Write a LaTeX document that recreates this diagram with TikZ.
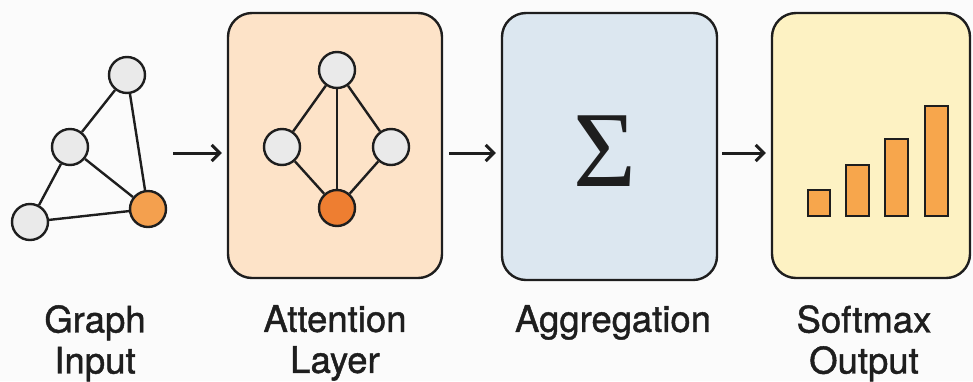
\documentclass[tikz,border=0pt]{standalone}
\usepackage{fontspec}
\setmainfont{TeX Gyre Heros}
\newfontfamily\lblfont{TeX Gyre Heros}[BoldFont={TeX Gyre Heros}, BoldFeatures={FakeBold=1.2}]
\newfontfamily\sigfont{Liberation Serif}
\usetikzlibrary{arrows.meta}
\definecolor{ink}{HTML}{1E1E1E}
\definecolor{peach}{HTML}{FDE3C8}
\definecolor{paleblue}{HTML}{DCE7F0}
\definecolor{paleyellow}{HTML}{FDF2C3}
\definecolor{nodegray}{HTML}{EAEAEA}
\definecolor{lightorange}{HTML}{F4A04E}
\definecolor{deeporange}{HTML}{EE7E31}
\definecolor{barorange}{HTML}{F7A64C}
\definecolor{bgcol}{HTML}{FBFBFB}
\tikzset{
  gnode/.style={circle, draw=ink, line width=2.4pt, fill=nodegray, minimum size=36pt, inner sep=0pt},
  onode/.style={gnode, fill=lightorange},
  dnode/.style={gnode, fill=deeporange},
  edge/.style={draw=ink, line width=2.4pt},
  stagebox/.style={draw=ink, line width=2.4pt, rounded corners=24pt, minimum width=214pt, minimum height=265pt, inner sep=0pt},
  arr/.style={draw=ink, line width=3pt, -{Straight Barb[length=8pt,width=16pt,line width=3pt]}},
  bar/.style={draw=ink, line width=2.4pt, fill=barorange},
  lbl/.style={font=\lblfont\bfseries\fontsize{36.5}{41}\selectfont, align=center, text=ink, inner sep=0pt, anchor=north}
}
\begin{document}
\begin{tikzpicture}[x=1pt, y=-1pt]
\useasboundingbox (0,0) rectangle (973,381);
\fill[bgcol] (0,0) rectangle (973,381);

% Graph input
\node[gnode] (g1) at (127,75) {};
\node[gnode] (g2) at (70,147) {};
\node[gnode] (g3) at (30,222) {};
\node[onode] (g4) at (148,209) {};
\draw[edge] (g1) -- (g2);
\draw[edge] (g1) -- (g4);
\draw[edge] (g2) -- (g3);
\draw[edge] (g2) -- (g4);
\draw[edge] (g3) -- (g4);

% Boxes
\node[stagebox, fill=peach] (att) at (335,145.5) {};
\node[stagebox, fill=paleblue, minimum width=215pt, minimum height=267pt] (agg) at (609.5,146.5) {};
\node[stagebox, fill=paleyellow, minimum width=198pt, minimum height=265pt] (soft) at (871,145.5) {};

% Attention graph
\node[gnode] (a1) at (337,70) {};
\node[gnode] (a2) at (282,147) {};
\node[gnode] (a3) at (391,147) {};
\node[dnode] (a4) at (337,208) {};
\draw[edge] (a1) -- (a2);
\draw[edge] (a1) -- (a3);
\draw[edge] (a1) -- (a4);
\draw[edge] (a2) -- (a4);
\draw[edge] (a3) -- (a4);

% Sigma
\node[text=ink, inner sep=0pt] (sig) at (605,151) {\sigfont\fontsize{108}{108}\selectfont Σ};

% Bars
\draw[bar] (808,216) rectangle (830,190);
\draw[bar] (846,216) rectangle (869,165);
\draw[bar] (885,216) rectangle (908,139);
\draw[bar] (925,216) rectangle (948,106);

% Arrows
\coordinate (s1) at (173,153);
\draw[arr] (s1) -- ([xshift=-5pt]att.west |- s1);
\draw[arr] ([xshift=6pt]att.east |- s1) -- ([xshift=-5pt]agg.west |- s1);
\draw[arr] ([xshift=4pt]agg.east |- s1) -- ([xshift=-5pt]soft.west |- s1);

% Labels
\node[lbl] (l1) at (95,305) {Graph\\Input};
\node[lbl] (l2) at (335,305) {Attention\\Layer};
\node[lbl] (l3) at (613,305) {Aggregation};
\node[lbl] (l4) at (864,305) {Softmax\\Output};
\end{tikzpicture}
\end{document}
